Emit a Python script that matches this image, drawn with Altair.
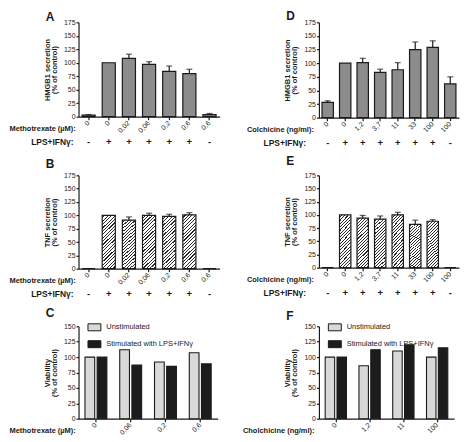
import altair as alt
import pandas as pd

FONT = "Liberation Sans"
INK = "#1a1a1a"
TXT = "#222222"

# ---------------- data ----------------
mtx_labels = ["0", "0", "0,02", "0,06", "0,2", "0,6", "0,6"]
mtx_lps = ["-", "+", "+", "+", "+", "+", "-"]
a_hmgb1 = [3, 100, 108, 97, 84, 80, 4]
a_hmgb1_err = [1, 0, 8, 5, 10, 8, 2]
b_tnf = [0, 100, 91, 100, 98, 101, 0]
b_tnf_err = [0, 0, 6, 4, 4, 4, 0]

col_labels = ["0", "0", "1,2", "3,7", "11", "33", "100", "100"]
col_lps = ["-", "+", "+", "+", "+", "+", "+", "-"]
d_hmgb1 = [28, 100, 101, 83, 88, 125, 129, 62]
d_hmgb1_err = [3, 0, 8, 6, 13, 14, 12, 13]
e_tnf = [0, 100, 94, 92, 100, 82, 88, 0]
e_tnf_err = [0, 0, 5, 6, 5, 8, 3, 0]

via_groups = ["Unstimulated", "Stimulated with LPS+IFNγ"]
c_labels = ["0", "0,06", "0,2", "0,6"]
c_unstim = [100, 112, 92, 107]
c_stim = [100, 87, 85, 89]
f_labels = ["0", "1,2", "11", "100"]
f_unstim = [100, 86, 110, 100]
f_stim = [100, 112, 120, 115]


# ---------------- helpers ----------------
def js_array(items):
    return "[" + ",".join("'%s'" % s for s in items) + "]"


def y_axis(title, top):
    return alt.Axis(values=list(range(0, top + 1, 25)), title=title, grid=False,
                    domainColor=INK, domainWidth=1.2, tickColor=INK, tickWidth=1.2,
                    tickSize=2.5, labelPadding=1, labelFontSize=7, labelColor=TXT,
                    labelFont=FONT, titleFont=FONT, titleFontSize=7.5,
                    titleFontWeight="bold", titleColor=INK, titlePadding=5,
                    titleLineHeight=7.5, labelOverlap=False)


def x_axis(labels, title, title_x):
    return alt.Axis(labelExpr=js_array(labels) + "[datum.value]", labelAngle=-45,
                    labelAlign="right", labelBaseline="middle", labelFontSize=7,
                    labelColor=TXT, labelFont=FONT, labelPadding=2, tickSize=3,
                    tickColor=INK, tickWidth=1.2, domainColor=INK, domainWidth=1.2,
                    grid=False, title=title, titleX=title_x, titleY=12,
                    titleAlign="left", titleBaseline="middle", titleAngle=0,
                    titleFontSize=7.5, titleFontWeight="bold", titleColor=INK,
                    titleFont=FONT, labelOverlap=False)


def hatch(w, h):
    k = 1.2
    n = 20
    stops = []
    for j in range(n):
        a, b, c = j / n, (j + 0.66) / n, (j + 1) / n
        stops += [alt.GradientStop(color="#ffffff", offset=a),
                  alt.GradientStop(color="#ffffff", offset=b),
                  alt.GradientStop(color="#2a2a2a", offset=b),
                  alt.GradientStop(color="#2a2a2a", offset=c)]
    return alt.LinearGradient(gradient="linear", stops=stops, x1=0, y1=0,
                              x2=k * w / h, y2=k)


def letter_mark(base, t, filt, base_y):
    return base.transform_filter(filt).mark_text(
        align="left", baseline="alphabetic", fontSize=12, fontWeight="bold",
        font=FONT, color=INK).encode(
        x=alt.value(-33), y=alt.value(base_y), text=alt.value(t))


def secretion(letter_t, letter_y, labels, signs, vals, errs, ytitle, xtitle,
              xtitle_x, lps_x, w, h, fill):
    df = pd.DataFrame({"i": list(range(len(labels))), "v": vals, "e": errs,
                       "sign": signs})
    df["top"] = df["v"] + df["e"]
    xs = alt.Scale(paddingInner=0.35, paddingOuter=0.175)
    ys = alt.Scale(domain=[0, 175], nice=False)
    xa = x_axis(labels, xtitle, xtitle_x)
    ya = y_axis(ytitle, 175)
    X = alt.X("i:O", scale=xs, axis=xa)
    base = alt.Chart(df)
    bars = base.mark_bar(fill=fill, stroke=INK, strokeWidth=1.2).encode(
        x=X, y=alt.Y("v:Q", scale=ys, axis=ya),
    )
    err = base.transform_filter("datum.e > 0")
    rule = err.mark_rule(color=INK, strokeWidth=1.2).encode(
        x=X, y=alt.Y("v:Q", scale=ys, axis=ya), y2="top:Q",
    )
    cap = err.mark_tick(color=INK, thickness=1.2, size=6).encode(
        x=X, y=alt.Y("top:Q", scale=ys, axis=ya),
    )
    sign_txt = base.mark_text(fontSize=9.5, fontWeight="bold", color=INK,
                              font=FONT, baseline="middle").encode(
        x=X, y=alt.value(h + 25), text="sign:N",
    )
    lps_txt = base.transform_filter("datum.i == 0").mark_text(
        align="right", baseline="middle", fontSize=8.5, fontWeight="bold",
        font=FONT, color=INK).encode(
        x=alt.value(lps_x), y=alt.value(h + 25), text=alt.value("LPS+IFNγ:"))
    lett = letter_mark(base, letter_t, "datum.i == 0", letter_y)
    return alt.layer(bars, rule, cap, sign_txt, lps_txt, lett).properties(
        width=w, height=h)


def viability(letter_t, letter_y, labels, unstim, stim, xtitle, xtitle_x, w, h):
    rows = []
    for i in range(len(labels)):
        rows.append({"i": i, "g": via_groups[0], "v": unstim[i]})
        rows.append({"i": i, "g": via_groups[1], "v": stim[i]})
    df = pd.DataFrame(rows)
    legend = alt.Legend(title=None, orient="none", legendX=9, legendY=-6,
                        direction="vertical",
                        symbolType="M-1,-0.54H1V0.54H-1Z", symbolSize=169,
                        symbolStrokeColor=INK, symbolStrokeWidth=1,
                        symbolOpacity=1, labelFontSize=7.5, labelFont=FONT,
                        labelColor=TXT, labelOffset=5, rowPadding=4, padding=0)
    base = alt.Chart(df)
    bars = base.mark_bar(stroke=INK, strokeWidth=1.1, opacity=1).encode(
        x=alt.X("i:O", scale=alt.Scale(paddingInner=0.37, paddingOuter=0.185),
                axis=x_axis(labels, xtitle, xtitle_x)),
        xOffset=alt.XOffset("g:N", sort=via_groups,
                            scale=alt.Scale(paddingInner=0.2)),
        y=alt.Y("v:Q", scale=alt.Scale(domain=[0, 150], nice=False),
                axis=y_axis(["Viability", "(% of control)"], 150)),
        color=alt.Color("g:N", sort=via_groups,
                        scale=alt.Scale(domain=via_groups,
                                        range=["#d9d9d9", "#1c1c1c"]),
                        legend=legend),
    )
    lett = letter_mark(base, letter_t, "datum.i == 0 && datum.g == 'Unstimulated'",
                       letter_y)
    return alt.layer(bars, lett).properties(width=w, height=h)


# ---------------- panels ----------------
pA = secretion("A", -1.5, mtx_labels, mtx_lps, a_hmgb1, a_hmgb1_err,
               ["HMGB1 secretion", "(% of control)"], "Methotrexate (µM):", -70, -5,
               142, 95, "#8c8c8c")
pB = secretion("B", -7, mtx_labels, mtx_lps, b_tnf, b_tnf_err,
               ["TNF secretion", "(% of control)"], "Methotrexate (µM):", -70, -5,
               142, 94, hatch(13, 54))
pC = viability("C", -9, c_labels, c_unstim, c_stim, "Methotrexate (µM):", -70,
               140, 93)

pD = secretion("D", -2.5, col_labels, col_lps, d_hmgb1, d_hmgb1_err,
               ["HMGB1 secretion", "(% of control)"], "Colchicine (ng/ml):", -73, -13,
               141, 96, "#8c8c8c")
pE = secretion("E", -10, col_labels, col_lps, e_tnf, e_tnf_err,
               ["TNF secretion", "(% of control)"], "Colchicine (ng/ml):", -73, -13,
               141, 93, hatch(12, 53))
pF = viability("F", -6, f_labels, f_unstim, f_stim, "Cholchicine (ng/ml):", -77,
               136, 93)

chart = (
    alt.concat(pA, pD, pB, pE, pC, pF, columns=2,
               spacing={"row": 58, "column": 100}, bounds="flush")
    .resolve_scale(color="independent", xOffset="independent")
    .resolve_legend(color="independent")
    .properties(padding=0)
    .configure(font=FONT)
    .configure_view(stroke="transparent")
)

chart.save("out.html", embed_options={"renderer": "svg", "actions": False})
